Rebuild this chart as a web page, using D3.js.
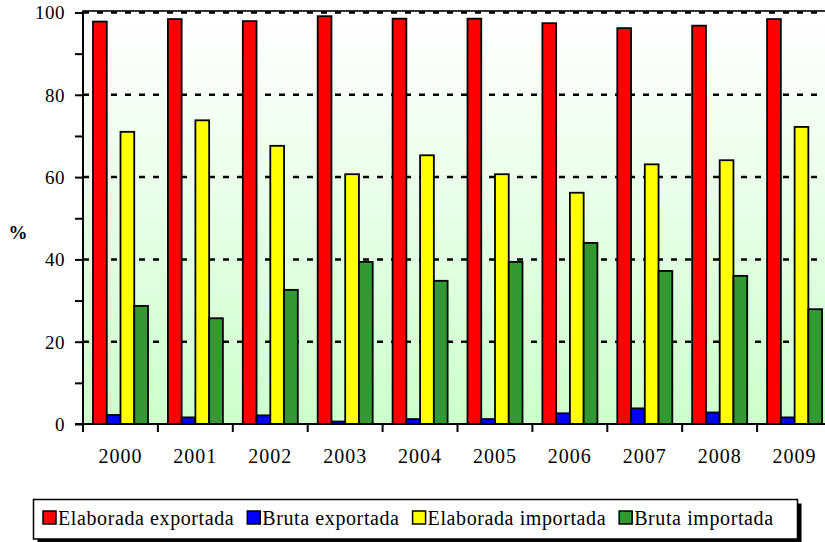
<!DOCTYPE html>
<html>
<head>
    <meta charset="utf-8">
    <script src="https://d3js.org/d3.v7.min.js"></script>
    <style>
        body { margin: 0; background: #fff; }
        text { font-family: "Liberation Serif", "Times New Roman", serif; fill: #000; }
    </style>
</head>
<body>
    <div id="viz"></div>
    <script type="text/javascript">

    var years = ["2000", "2001", "2002", "2003", "2004", "2005", "2006", "2007", "2008", "2009"];
    var seriesNames = ["Elaborada exportada", "Bruta exportada", "Elaborada importada", "Bruta importada"];
    var seriesColors = ["#ff0000", "#0000ff", "#ffff00", "#339933"];

    var elaboradaExportada = [97.8, 98.4, 97.9, 99.1, 98.5, 98.5, 97.4, 96.2, 96.8, 98.4];
    var brutaExportada     = [2.2, 1.6, 2.1, 0.6, 1.2, 1.2, 2.6, 3.8, 2.8, 1.6];
    var elaboradaImportada = [71.0, 73.8, 67.6, 60.7, 65.3, 60.7, 56.2, 63.1, 64.1, 72.2];
    var brutaImportada     = [28.7, 25.7, 32.6, 39.4, 34.8, 39.4, 44.0, 37.2, 36.0, 27.9];

    var yTicks = [0, 20, 40, 60, 80, 100];

    var seriesValues = [elaboradaExportada, brutaExportada, elaboradaImportada, brutaImportada];

    var width = 825, height = 542;
    var plotLeft = 83, plotTop = 12.5, plotBottom = 424;
    var catW = 74.9;

    var svg = d3.select("#viz")
        .append("svg")
        .attr("width", width)
        .attr("height", height);

    var x0 = d3.scaleBand()
        .domain(years)
        .range([plotLeft, plotLeft + catW * years.length])
        .padding(0);

    var x1 = d3.scaleBand()
        .domain(seriesNames)
        .range([10, 65])
        .padding(0);

    var y = d3.scaleLinear()
        .domain([0, 100])
        .range([plotBottom, plotTop]);

    // background gradient
    var defs = svg.append("defs");
    var grad = defs.append("linearGradient")
        .attr("id", "bg")
        .attr("x1", 0).attr("y1", 0).attr("x2", 0).attr("y2", 1);
    grad.append("stop").attr("offset", "0%").attr("stop-color", "#ffffff");
    grad.append("stop").attr("offset", "100%").attr("stop-color", "#ccffcc");

    svg.append("rect")
        .attr("x", plotLeft)
        .attr("y", plotTop - 1.5)
        .attr("width", width - plotLeft)
        .attr("height", plotBottom - plotTop + 1.5)
        .style("fill", "url(#bg)");

    // top border of plot area
    svg.append("line")
        .attr("x1", plotLeft).attr("x2", width)
        .attr("y1", plotTop - 1.5).attr("y2", plotTop - 1.5)
        .style("stroke", "#333")
        .style("stroke-width", 2);

    // dashed gridlines
    svg.append("g")
        .selectAll("line")
        .data(yTicks.filter(function(d) { return d > 0; }))
        .enter().append("line")
        .attr("x1", plotLeft).attr("x2", width)
        .attr("y1", function(d) { return y(d); })
        .attr("y2", function(d) { return y(d); })
        .style("stroke", "#000")
        .style("stroke-width", 2.5)
        .style("stroke-dasharray", "6,8");

    // bars
    var groups = svg.append("g")
        .selectAll("g")
        .data(years)
        .enter().append("g")
        .attr("transform", function(d) { return "translate(" + x0(d) + ",0)"; });

    groups.selectAll("rect")
        .data(function(d, i) {
            return seriesNames.map(function(s, k) {
                return { name: s, value: seriesValues[k][i], color: seriesColors[k] };
            });
        })
        .enter().append("rect")
        .attr("x", function(d) { return x1(d.name); })
        .attr("y", function(d) { return y(d.value); })
        .attr("width", x1.bandwidth())
        .attr("height", function(d) { return plotBottom - y(d.value); })
        .style("fill", function(d) { return d.color; })
        .style("stroke", "#000")
        .style("stroke-width", 1.8);

    // y axis
    var yAxis = d3.axisLeft(y)
        .tickValues(d3.range(0, 101, 10))
        .tickSize(8)
        .tickPadding(10)
        .tickFormat(function(d) { return yTicks.indexOf(d) >= 0 ? d : ""; });

    var gy = svg.append("g")
        .attr("transform", "translate(" + plotLeft + ",0)")
        .call(yAxis);
    gy.select(".domain").remove();
    gy.selectAll(".tick line").style("stroke", "#000").style("stroke-width", 2);
    gy.selectAll("text")
        .style("font-family", "Liberation Serif")
        .style("font-size", "19px")
        .style("letter-spacing", "0.5px")
        .attr("dy", "0.34em");

    svg.append("line")
        .attr("x1", plotLeft).attr("x2", plotLeft)
        .attr("y1", plotTop - 2).attr("y2", plotBottom)
        .style("stroke", "#000")
        .style("stroke-width", 2);

    // x axis
    var boundaries = years.map(function(d) { return x0(d); });
    svg.append("g")
        .selectAll("line")
        .data(boundaries)
        .enter().append("line")
        .attr("x1", function(d) { return d; })
        .attr("x2", function(d) { return d; })
        .attr("y1", plotBottom).attr("y2", plotBottom + 8)
        .style("stroke", "#000")
        .style("stroke-width", 2);

    svg.append("line")
        .attr("x1", plotLeft - 8).attr("x2", width)
        .attr("y1", plotBottom).attr("y2", plotBottom)
        .style("stroke", "#000")
        .style("stroke-width", 2);

    svg.append("g")
        .selectAll("text")
        .data(years)
        .enter().append("text")
        .attr("x", function(d) { return x0(d) + x0.bandwidth() / 2; })
        .attr("y", 463)
        .attr("text-anchor", "middle")
        .style("font-size", "20px")
        .style("letter-spacing", "1px")
        .text(function(d) { return d; });

    // y title
    svg.append("text")
        .attr("x", 18)
        .attr("y", 239)
        .attr("text-anchor", "middle")
        .style("font-size", "19px")
        .style("font-weight", "bold")
        .text("%");

    // legend
    var lg = svg.append("g");
    lg.append("rect")
        .attr("x", 37.5).attr("y", 503.5)
        .attr("width", 764).attr("height", 40)
        .style("fill", "#000");
    lg.append("rect")
        .attr("x", 33.5).attr("y", 499.5)
        .attr("width", 764).attr("height", 39.5)
        .style("fill", "#fff")
        .style("stroke", "#000")
        .style("stroke-width", 1.5);

    var lx = 43;
    seriesNames.forEach(function(name, k) {
        lg.append("rect")
            .attr("x", lx).attr("y", 511)
            .attr("width", 13).attr("height", 13)
            .style("fill", seriesColors[k])
            .style("stroke", "#000")
            .style("stroke-width", 1.5);
        var t = lg.append("text")
            .attr("x", lx + 15)
            .attr("y", 524.5)
            .style("font-size", "20px")
            .style("letter-spacing", "0.6px")
            .text(name);
        lx = lx + 15 + t.node().getComputedTextLength() + 13;
    });

    </script>
</body>
</html>
